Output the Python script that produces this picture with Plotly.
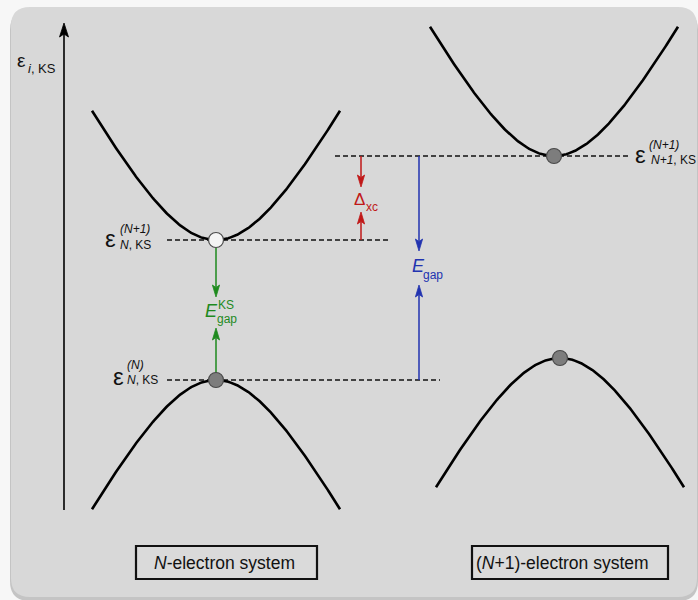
import numpy as np
import plotly.graph_objects as go

# ---------------- data (schematic pixel-space values) ----------------
system_labels = ["<i>N</i>-electron system", "(<i>N</i>+1)-electron system"]

# band extrema: x position of vertex, energy level (y), orientation (+1 conduction opens up, -1 valence opens down)
band_vertex_x = [216, 216, 554, 560]
band_level_y = [240, 380, 156, 358]
band_kind = [1, -1, 1, -1]
band_state = ["empty", "filled", "filled", "filled"]
band_halfwidth = 124
band_depth = 153
band_soft = 80

# dashed level lines: (level y, x start, x end)
level_y = [240, 380, 156]
level_x0 = [167, 167, 335]
level_x1 = [388, 440, 628]

# gap arrows: x, start y, tip y, colour
arrow_x = [216, 216, 361, 361, 419, 419]
arrow_from = [248, 373, 156, 240, 156, 380]
arrow_to = [297, 328, 187, 212, 251, 285]
arrow_col = ["#1e8a1e", "#1e8a1e", "#c01818", "#c01818", "#2233b0", "#2233b0"]

FONT = "Liberation Sans, Arial, sans-serif"

fig = go.Figure()

shapes = []


def rrect(x0, y0, x1, y1, r):
    return (f"M{x0+r},{y0} L{x1-r},{y0} Q{x1},{y0} {x1},{y0+r} L{x1},{y1-r} "
            f"Q{x1},{y1} {x1-r},{y1} L{x0+r},{y1} Q{x0},{y1} {x0},{y1-r} "
            f"L{x0},{y0+r} Q{x0},{y0} {x0+r},{y0} Z")


# panel shadow + panel
shapes.append(dict(type="path", path=rrect(10, 10, 698, 601, 20), xref="x", yref="y",
                   fillcolor="#c4c4c4", line=dict(width=0), layer="below"))
shapes.append(dict(type="path", path=rrect(11, 7, 697, 597, 19), xref="x", yref="y",
                   fillcolor="#d8d8d8", line=dict(width=0), layer="below"))

# dashed levels
for ly, a, b in zip(level_y, level_x0, level_x1):
    shapes.append(dict(type="line", x0=a, x1=b, y0=ly, y1=ly, xref="x", yref="y",
                       line=dict(color="#111111", width=1.6, dash="5px,3px"), layer="below"))


def arrow(x, y0, y1, col, head=12, hw=3.6, notch=2.5, lw=1.5):
    d = 1 if y1 > y0 else -1
    base = y1 - d * head
    shapes.append(dict(type="line", x0=x, x1=x, y0=y0, y1=base + d * notch, xref="x", yref="y",
                       line=dict(color=col, width=lw), layer="below"))
    shapes.append(dict(type="path",
                       path=f"M{x},{y1} L{x-hw},{base} L{x},{base + d*notch} L{x+hw},{base} Z",
                       xref="x", yref="y", fillcolor=col, line=dict(color=col, width=0.8),
                       layer="below"))


for x, a, b, c in zip(arrow_x, arrow_from, arrow_to, arrow_col):
    arrow(x, a, b, c)

# vertical energy axis
arrow(64, 510, 23, "#000000", head=14, hw=4.5, notch=3, lw=1.6)

# system boxes
shapes.append(dict(type="rect", x0=136, x1=317, y0=546, y1=579, xref="x", yref="y",
                   line=dict(color="#111111", width=2.2), fillcolor="#dadada", layer="below"))
shapes.append(dict(type="rect", x0=472, x1=668, y0=546, y1=579, xref="x", yref="y",
                   line=dict(color="#111111", width=2.2), fillcolor="#dadada", layer="below"))

# band curves
for vx, vy, k in zip(band_vertex_x, band_level_y, band_kind):
    dx = np.linspace(-band_halfwidth, band_halfwidth, 241)
    f = np.sqrt(1 + (dx / band_soft) ** 2) - 1
    y = vy - k * band_depth * f
    fig.add_trace(go.Scatter(x=vx + dx, y=y, mode="lines",
                             line=dict(color="#000000", width=2.6), hoverinfo="skip"))

# states on band extrema
fill = {"empty": "#f4f4f4", "filled": "#7d7d7d"}
fig.add_trace(go.Scatter(
    x=band_vertex_x, y=band_level_y, mode="markers",
    marker=dict(size=15, color=[fill[s] for s in band_state],
                line=dict(color="#4a4a4a", width=1.2)),
    hoverinfo="skip"))

ann = []


def txt(x, y, s, size, color="#111111", xanchor="left"):
    ann.append(dict(x=x, y=y, xref="x", yref="y", text=s, showarrow=False,
                    xanchor=xanchor, yanchor="middle",
                    font=dict(family=FONT, size=size, color=color)))


# axis label
txt(15, 60, "ε", 19)
txt(26, 68, "<i>i</i>, KS", 13)

# level labels
txt(103, 238, "ε", 24)
txt(118, 229, "<i>(N+1)</i>", 12)
txt(118, 245, "<i>N</i>, KS", 12)

txt(111, 376, "ε", 24)
txt(125, 365, "<i>(N)</i>", 12)
txt(125, 380, "<i>N</i>, KS", 12)

txt(633, 154, "ε", 24)
txt(647, 145, "<i>(N+1)</i>", 12)
txt(649, 160, "<i>N+1</i>, KS", 12)

# gap labels
g, r, b = arrow_col[0], arrow_col[2], arrow_col[4]
txt(203, 311, "<i>E</i>", 18, g)
txt(216, 305, "KS", 12, g)
txt(215, 319, "gap", 12, g)

txt(352, 199, "Δ", 17, r)
txt(364, 207, "xc", 12, r)

txt(410, 266, "<i>E</i>", 18, b)
txt(421, 275, "gap", 12, b)

# box labels
txt(224, 563, system_labels[0], 17.5, xanchor="center")
txt(474, 563, system_labels[1], 17.5)

fig.update_layout(
    width=698, height=600, margin=dict(l=0, r=0, t=0, b=0),
    paper_bgcolor="#f7f7f7", plot_bgcolor="#f7f7f7",
    showlegend=False, shapes=shapes, annotations=ann,
    xaxis=dict(range=[0, 698], visible=False, fixedrange=True),
    yaxis=dict(range=[600, 0], visible=False, fixedrange=True),
)

fig.write_html("out.html")
